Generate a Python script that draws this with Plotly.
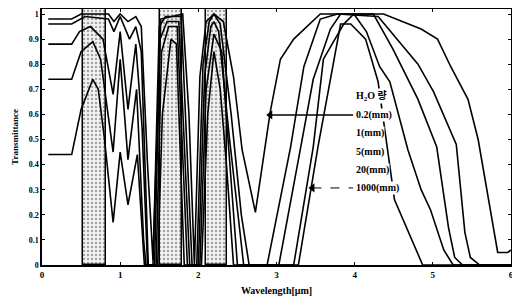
import plotly.graph_objects as go

# ---- data ----
x_ticks = [0, 1, 2, 3, 4, 5, 6]
x_tick_labels = ["0", "1", "2", "3", "4", "5", "6"]
y_ticks = [0, 0.1, 0.2, 0.3, 0.4, 0.5, 0.6, 0.7, 0.8, 0.9, 1.0]
y_tick_labels = ["0", "0.1", "0.2", "0.3", "0.4", "0.5", "0.6", "0.7", "0.8", "0.9", "1"]

band_start = [0.53, 1.51, 2.10]
band_end = [0.82, 1.79, 2.37]

series_names = ["0.2(mm)", "1(mm)", "5(mm)", "20(mm)", "1000(mm)"]

a_x = [0.08, 0.38, 0.5, 0.85, 0.92, 1.0, 1.1, 1.2, 1.27, 1.35, 1.42, 1.47, 1.52, 1.8, 1.88, 1.95,
       2.02, 2.1, 2.2, 2.32, 2.45, 2.56, 2.73, 2.92, 3.05, 3.22, 3.56, 4.37, 4.85, 5.06, 5.23,
       5.45, 5.58, 5.83, 5.96, 6.0]
a_y = [0.98, 0.98, 1.0, 1.0, 0.97, 1.0, 0.97, 0.99, 0.95, 0.4, 0.02, 0.5, 0.98, 1.0, 0.6, 0.0,
       0.75, 0.97, 1.0, 0.97, 0.75, 0.46, 0.21, 0.61, 0.82, 0.90, 1.0, 1.0, 0.94, 0.90, 0.79,
       0.66, 0.50, 0.05, 0.05, 0.06]

b_x = [0.08, 0.38, 0.55, 0.85, 0.92, 1.0, 1.12, 1.2, 1.27, 1.36, 1.42, 1.5, 1.58, 1.78, 1.92,
       1.98, 2.06, 2.14, 2.2, 2.28, 2.42, 2.55, 2.65, 2.88, 3.18, 3.35, 3.56, 3.78, 4.3, 4.81,
       5.01, 5.30, 5.41, 5.48, 5.6, 6.0]
b_y = [0.96, 0.96, 0.99, 0.98, 0.93, 0.99, 0.90, 0.95, 0.85, 0.0, 0.0, 0.95, 0.99, 0.99, 0.0,
       0.0, 0.8, 0.97, 1.0, 0.96, 0.6, 0.2, 0.0, 0.0, 0.47, 0.79, 0.98, 1.0, 0.99, 0.80,
       0.69, 0.48, 0.13, 0.03, 0.0, 0.0]

c_x = [0.08, 0.38, 0.48, 0.62, 0.78, 0.91, 1.0, 1.1, 1.2, 1.28, 1.35, 1.44, 1.51, 1.6, 1.75,
       1.89, 2.0, 2.08, 2.16, 2.2, 2.26, 2.4, 2.58, 3.03, 3.31, 3.47, 3.69, 3.82, 4.24, 4.49,
       4.81, 5.05, 5.2, 5.28, 5.38, 6.0]
c_y = [0.88, 0.88, 0.93, 0.95, 0.90, 0.68, 0.93, 0.62, 0.88, 0.55, 0.0, 0.0, 0.9, 0.97, 0.97,
       0.0, 0.0, 0.75, 0.95, 0.97, 0.93, 0.5, 0.0, 0.0, 0.47, 0.74, 0.94, 1.0, 1.0, 0.86,
       0.66, 0.47, 0.15, 0.03, 0.0, 0.0]

d_x = [0.08, 0.38, 0.5, 0.65, 0.75, 0.91, 1.0, 1.1, 1.21, 1.3, 1.33, 1.46, 1.53, 1.62, 1.73,
       1.86, 2.02, 2.1, 2.2, 2.3, 2.38, 2.5, 3.22, 3.47, 3.60, 3.86, 3.99, 4.15, 4.32, 4.45,
       4.68, 4.85, 4.97, 5.14, 5.26, 6.0]
d_y = [0.74, 0.74, 0.85, 0.89, 0.82, 0.45, 0.82, 0.42, 0.70, 0.1, 0.0, 0.0, 0.85, 0.95, 0.95,
       0.0, 0.0, 0.7, 0.92, 0.85, 0.5, 0.0, 0.0, 0.47, 0.82, 0.96, 1.0, 0.93, 0.79, 0.73,
       0.46, 0.30, 0.22, 0.06, 0.0, 0.0]

e_x = [0.08, 0.38, 0.5, 0.65, 0.72, 0.8, 0.91, 1.0, 1.1, 1.22, 1.31, 1.48, 1.54, 1.65, 1.72,
       1.82, 2.04, 2.12, 2.2, 2.28, 2.36, 2.45, 3.28, 3.53, 3.82, 3.95, 4.14, 4.30, 4.51, 4.87, 6.0]
e_y = [0.44, 0.44, 0.62, 0.74, 0.70, 0.5, 0.17, 0.45, 0.24, 0.44, 0.0, 0.0, 0.6, 0.9, 0.88,
       0.0, 0.0, 0.6, 0.85, 0.7, 0.4, 0.0, 0.0, 0.47, 0.96, 0.96, 0.90, 0.73, 0.26, 0.0, 0.0]

legend_title = "H<sub>2</sub>O 량"

# ---- figure ----
FONT = "Liberation Serif, Times New Roman, Noto Sans CJK KR, serif"
fig = go.Figure()

centers = [(s + e) / 2 for s, e in zip(band_start, band_end)]
widths = [e - s for s, e in zip(band_start, band_end)]
fig.add_trace(go.Bar(
    x=centers, y=[1.02] * len(centers), width=widths, base=0,
    marker=dict(color="#eeeeee", line=dict(color="black", width=1.5),
                pattern=dict(shape=".", fgcolor="#555555", bgcolor="#f2f2f2", size=4, solidity=0.3)),
    showlegend=False, hoverinfo="skip"))

for name, xs, ys in zip(series_names, [a_x, b_x, c_x, d_x, e_x], [a_y, b_y, c_y, d_y, e_y]):
    fig.add_trace(go.Scatter(x=xs, y=ys, mode="lines", name=name,
                             line=dict(color="black", width=1.6), showlegend=False))

# legend-like labels
lab_x = 4.0
lab_y = [0.598, 0.526, 0.452, 0.378, 0.307]
fig.add_annotation(x=lab_x, y=0.672, xref="x", yref="y", text=legend_title, showarrow=False,
                   xanchor="left", font=dict(family=FONT, size=10, color="black", weight="bold"),
                   bgcolor="white", borderpad=0)
for name, yy in zip(series_names, lab_y):
    fig.add_annotation(x=lab_x, y=yy, xref="x", yref="y", text=name, showarrow=False,
                       xanchor="left", font=dict(family=FONT, size=10, color="black", weight="bold"),
                       bgcolor="white", borderpad=0)

# pointer lines from labels to curves
arrow_tip_x = [2.92, 3.46]
arrow_tip_y = [lab_y[0], lab_y[4]]
fig.add_shape(type="line", x0=arrow_tip_x[0], x1=3.98, y0=lab_y[0], y1=lab_y[0], xref="x", yref="y",
              line=dict(color="black", width=1.5))
fig.add_shape(type="line", x0=arrow_tip_x[1], x1=3.98, y0=lab_y[4], y1=lab_y[4], xref="x", yref="y",
              line=dict(color="black", width=1, dash="dash"))
fig.add_trace(go.Scatter(x=arrow_tip_x, y=arrow_tip_y, mode="markers",
                         marker=dict(symbol="triangle-left", size=8, color="black"),
                         showlegend=False, hoverinfo="skip", cliponaxis=False))

# the page body has an 8px margin, so the figure is sized to fill the rest of the window
fig.update_layout(
    width=512, height=292,
    margin=dict(l=34, r=9, t=1, b=35),
    paper_bgcolor="white", plot_bgcolor="white",
    font=dict(family=FONT, color="black"),
    bargap=0,
)
fig.update_xaxes(range=[0, 6.0001], tickvals=x_ticks, ticktext=x_tick_labels, automargin=False,
                 showgrid=False, zeroline=False, showline=True, linecolor="black", linewidth=1.5,
                 mirror="ticks", ticks="inside", ticklen=3, tickcolor="black",
                 tickfont=dict(size=9, weight="bold"),
                 title=dict(text="Wavelength[μm]", font=dict(size=10, weight="bold"), standoff=8))
fig.update_yaxes(range=[0, 1.02], tickvals=y_ticks, ticktext=y_tick_labels, automargin=False,
                 showgrid=False, zeroline=False, showline=True, linecolor="black", linewidth=1.5,
                 mirror="ticks", ticks="inside", ticklen=3, tickcolor="black",
                 tickfont=dict(size=8, weight="bold"),
                 title=dict(text="Transmittance", font=dict(size=9, weight="bold"), standoff=9))

fig.write_html("out.html")
